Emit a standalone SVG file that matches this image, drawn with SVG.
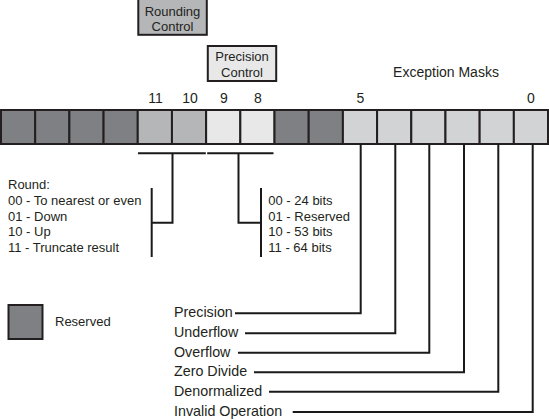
<svg xmlns="http://www.w3.org/2000/svg" width="549" height="420" viewBox="0 0 549 420">
<style>
text{font-family:"Liberation Sans",Arial,sans-serif;fill:#231f20}
.lbl{font-size:13px}
.big{font-size:14.3px}
.num{font-size:14px;text-anchor:middle}
.mid{text-anchor:middle}
.cell{stroke:#231f20;stroke-width:2}
.res{fill:#7f8083}
.rnd{fill:#b5b6b8}
.pre{fill:#e8e8e9}
.exc{fill:#d2d3d5}
.ln{fill:none;stroke:#1a1a1a;stroke-width:2}
</style>
<rect width="549" height="420" fill="#ffffff"/>

<g id="rounding-control">
<rect class="cell rnd" x="138.3" y="-1" width="68.5" height="35.8"/>
<text class="lbl mid" x="172.5" y="15.7">Rounding</text>
<text class="lbl mid" x="172.5" y="30.5">Control</text>
</g>

<g id="precision-control">
<rect class="cell pre" x="207.8" y="46" width="68.4" height="35"/>
<text class="lbl mid" x="242" y="61">Precision</text>
<text class="lbl mid" x="242" y="76.5">Control</text>
</g>

<g id="exception-masks-label">
<text class="big mid" x="446" y="76.7" style="font-size:14px">Exception Masks</text>
</g>

<g id="bit-numbers">
<text class="num" x="155.5" y="102.5">11</text>
<text class="num" x="190" y="102.5">10</text>
<text class="num" x="224" y="102.5">9</text>
<text class="num" x="258" y="102.5">8</text>
<text class="num" x="360.5" y="102.5">5</text>
<text class="num" x="531" y="102.5">0</text>
</g>

<g id="register">
<rect class="cell res" x="1" y="110" width="34.19" height="34"/>
<rect class="cell res" x="35.19" y="110" width="34.19" height="34"/>
<rect class="cell res" x="69.38" y="110" width="34.19" height="34"/>
<rect class="cell res" x="103.57" y="110" width="34.19" height="34"/>
<rect class="cell rnd" x="137.76" y="110" width="34.19" height="34"/>
<rect class="cell rnd" x="171.95" y="110" width="34.19" height="34"/>
<rect class="cell pre" x="206.14" y="110" width="34.19" height="34"/>
<rect class="cell pre" x="240.33" y="110" width="34.19" height="34"/>
<rect class="cell res" x="274.52" y="110" width="34.19" height="34"/>
<rect class="cell res" x="308.71" y="110" width="34.19" height="34"/>
<rect class="cell exc" x="342.9" y="110" width="34.19" height="34"/>
<rect class="cell exc" x="377.09" y="110" width="34.19" height="34"/>
<rect class="cell exc" x="411.28" y="110" width="34.19" height="34"/>
<rect class="cell exc" x="445.47" y="110" width="34.19" height="34"/>
<rect class="cell exc" x="479.66" y="110" width="34.19" height="34"/>
<rect class="cell exc" x="513.85" y="110" width="34.15" height="34"/>
</g>

<g id="round-list">
<text class="lbl" x="8" y="188.5">Round:</text>
<text class="lbl" x="8" y="205">00 - To nearest or even</text>
<text class="lbl" x="8" y="220.7">01 - Down</text>
<text class="lbl" x="8" y="236">10 - Up</text>
<text class="lbl" x="8" y="251.7">11 - Truncate result</text>
</g>

<g id="precision-list">
<text class="lbl" x="268.3" y="205">00 - 24 bits</text>
<text class="lbl" x="268.3" y="220.7">01 - Reserved</text>
<text class="lbl" x="268.3" y="236">10 - 53 bits</text>
<text class="lbl" x="268.3" y="251.7">11 - 64 bits</text>
</g>

<g id="legend-reserved">
<rect class="cell res" x="8.5" y="305" width="34" height="34"/>
<text class="lbl" x="55" y="326">Reserved</text>
</g>

<g id="exception-labels">
<text class="big" x="174" y="317.3">Precision</text>
<text class="big" x="174" y="337.3">Underflow</text>
<text class="big" x="174" y="356.7">Overflow</text>
<text class="big" x="174" y="376.3">Zero Divide</text>
<text class="big" x="174" y="395.7">Denormalized</text>
<text class="big" x="174" y="416">Invalid Operation</text>
</g>

<g id="connectors">
<path class="ln" d="M138 153.3H205.8M207.2 153.3H273.5"/>
<path class="ln" d="M172.5 153.3V222.7H151.7M151.7 188V257"/>
<path class="ln" d="M238.5 153.3V222.7H261M261 188V257"/>
<path class="ln" d="M360.7 144V313.3H235"/>
<path class="ln" d="M395.3 144V333.3H245"/>
<path class="ln" d="M429.3 144V352.7H238"/>
<path class="ln" d="M464 144V372.3H254"/>
<path class="ln" d="M498.3 144V391.7H269"/>
<path class="ln" d="M532.7 144V412H292.7"/>
</g>
</svg>
